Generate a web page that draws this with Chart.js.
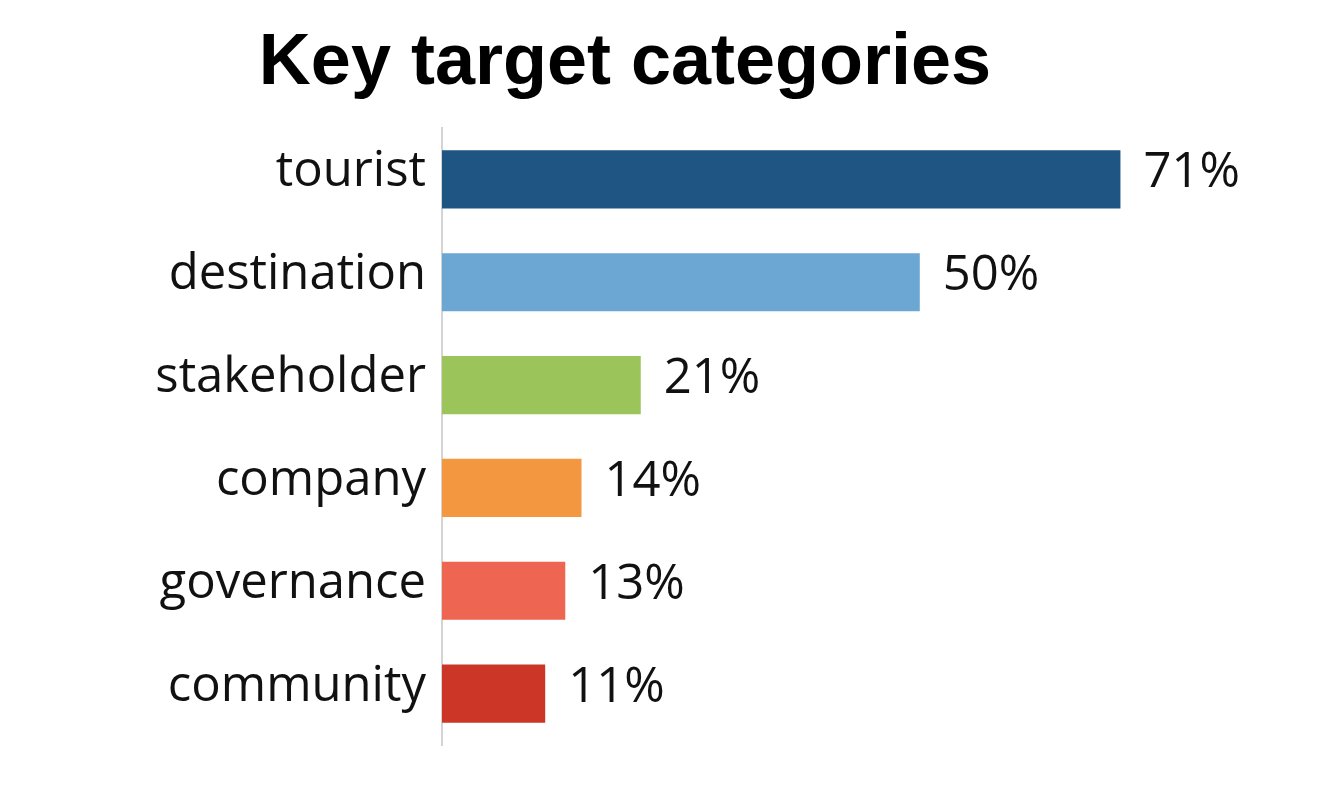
<!DOCTYPE html>
<html>
<head>
<meta charset="utf-8">
<script src="https://cdn.jsdelivr.net/npm/chart.js@4"></script>
<style>
  html, body { margin: 0; padding: 0; background: #fff; }
  canvas { display: block; }
</style>
</head>
<body>
<canvas id="chart" width="1326" height="792"></canvas>
<script>
// Data
const categories = ["tourist", "destination", "stakeholder", "company", "governance", "community"];
const shares = [71, 50, 20.8, 14.6, 12.9, 10.8];
const shareLabels = ["71%", "50%", "21%", "14%", "13%", "11%"];
const barColors = ["#1f5582", "#6ca6d3", "#9bc55a", "#f39741", "#ee6651", "#cb3627"];
const chartTitle = "Key target categories";

// Title drawn by hand so it sits left of centre like the original
const titlePlugin = {
  id: "titleText",
  afterDraw(chart) {
    const ctx = chart.ctx;
    ctx.save();
    ctx.font = "bold 72px 'Liberation Sans', Arial, sans-serif";
    ctx.fillStyle = "#000";
    ctx.textAlign = "center";
    ctx.textBaseline = "alphabetic";
    ctx.fillText(chartTitle, 625, 84);
    ctx.restore();
  }
};

// Percent labels at the end of each bar
const valueLabels = {
  id: "valueLabels",
  afterDatasetsDraw(chart) {
    const ctx = chart.ctx;
    const meta = chart.getDatasetMeta(0);
    ctx.save();
    ctx.font = "49px 'Open Sans', sans-serif";
    ctx.fillStyle = "#111";
    ctx.textAlign = "left";
    ctx.textBaseline = "middle";
    meta.data.forEach((bar, i) => {
      ctx.fillText(shareLabels[i], bar.x + 23, bar.y - 6);
    });
    ctx.restore();
  }
};

const ctx = document.getElementById("chart").getContext("2d");
new Chart(ctx, {
  type: "bar",
  data: {
    labels: categories,
    datasets: [{
      data: shares,
      backgroundColor: barColors,
      borderWidth: 0,
      barPercentage: 0.565,
      categoryPercentage: 1
    }]
  },
  options: {
    indexAxis: "y",
    responsive: false,
    animation: false,
    layout: {
      padding: { top: 128, bottom: 47, left: 0, right: 24 }
    },
    plugins: {
      legend: { display: false },
      tooltip: { enabled: false },
      title: { display: false }
    },
    scales: {
      x: {
        display: false,
        min: 0,
        max: 90
      },
      y: {
        afterFit: function (scale) { scale.width = 442; },
        grid: { display: false, drawTicks: false },
        border: { display: true, color: "#d4d4d4", width: 2 },
        ticks: {
          color: "#111",
          padding: 16,
          labelOffset: -7,
          font: { family: "'Open Sans', sans-serif", size: 49 }
        }
      }
    }
  },
  plugins: [titlePlugin, valueLabels]
});
</script>
</body>
</html>
